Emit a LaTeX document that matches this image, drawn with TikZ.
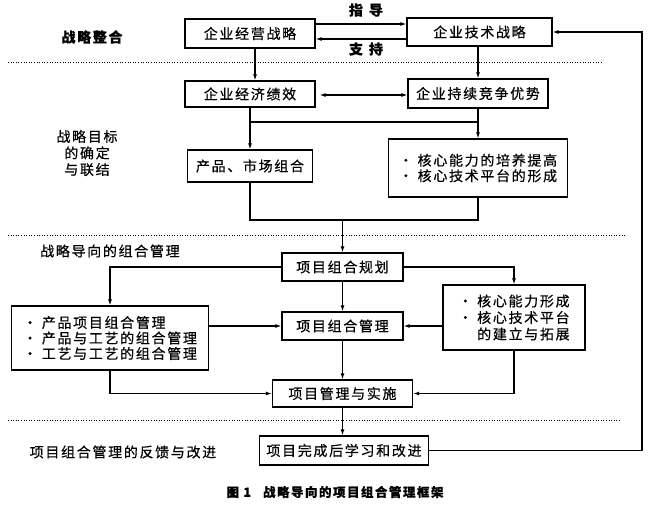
\documentclass[tikz,border=0pt]{standalone}
\usepackage{fontspec}
\newfontfamily\cjk[LetterSpace=12,FakeBold=0.5]{Noto Sans CJK SC}
\usetikzlibrary{arrows.meta}
\begin{document}
\begin{tikzpicture}[x=1pt,y=-1pt,
  box/.style={draw,line width=1.3pt,inner sep=0pt,align=left,font=\cjk\fontsize{14}{15.5}\selectfont},
  lbl/.style={align=center,inner sep=0pt,font=\cjk\fontsize{14}{16.5}\selectfont},
  link/.style={line width=1.1pt},
  divider/.style={line width=0.9pt,dash pattern=on 1pt off 1.6pt},
  >={Latex[length=6pt,width=4pt]}]
\useasboundingbox (0,0) rectangle (650,504);
\node[box,minimum width=130pt,minimum height=29pt] (jyzl) at (250,33.5) {企业经营战略};
\node[box,minimum width=145pt,minimum height=28pt] (jszl) at (479.5,32) {企业技术战略};
\node[box,minimum width=130pt,minimum height=26pt] (jjjx) at (250,94) {企业经济绩效};
\node[box,minimum width=140pt,minimum height=29pt] (jzys) at (478,93.5) {企业持续竞争优势};
\node[box,minimum width=125pt,minimum height=32pt] (cpsc) at (250,166) {产品、市场组合};
\node[box,minimum width=179pt,minimum height=58pt] (hxnl) at (478,168) {· 核心能力的培养提高\\· 核心技术平台的形成};
\node[box,minimum width=121pt,minimum height=28pt] (xmgh) at (342.5,267) {项目组合规划};
\node[box,minimum width=121pt,minimum height=28pt] (xmgl) at (342.5,326) {项目组合管理};
\node[box,minimum width=140pt,minimum height=27pt] (xmss) at (342.5,393.5) {项目管理与实施};
\node[box,minimum width=197pt,minimum height=64pt] (zhgl) at (110,338) {· 产品项目组合管理\\· 产品与工艺的组合管理\\· 工艺与工艺的组合管理};
\node[box,minimum width=142pt,minimum height=65pt,font=\cjk\fontsize{14}{16.5}\selectfont] (hxxc) at (514,317.5) {· 核心能力形成\\· 核心技术平台\\\phantom{· }的建立与拓展};
\node[box,minimum width=169pt,minimum height=29pt] (xmwc) at (344,450.5) {项目完成后学习和改进};
\node[lbl,font=\cjk\bfseries\fontsize{14}{16.5}\selectfont] (zlzh) at (92,37) {战略整合};
\node[lbl] (zlmb) at (87,153) {战略目标\\的确定\\与联结};
\node[lbl,anchor=west] (zldx) at (40,251) {战略导向的组合管理};
\node[lbl] (fkgj) at (123,452) {项目组合管理的反馈与改进};
\node[lbl,font=\cjk\bfseries\fontsize{14}{16.5}\selectfont] (zd) at (366,10) {指\hspace{6pt}导};
\node[lbl,font=\cjk\bfseries\fontsize{14}{16.5}\selectfont] (zc) at (366,49) {支\hspace{6pt}持};
\node[lbl,font=\cjk\bfseries\fontsize{12.5}{15}\selectfont] (tz) at (335,492) {图 1\hspace{12pt}战略导向的项目组合管理框架};
\coordinate (fb) at (642,0);
\draw[divider] (8,62) -- (603,62);
\draw[divider] (8,235) -- (625,235);
\draw[divider] (8,420) -- (620,420);
\draw[link,->] (jyzl.east |- 0,24) -- (jszl.west |- 0,24);
\draw[link,->] (jszl.west |- 0,39) -- (jyzl.east |- 0,39);
\draw[link,<->] ([xshift=4pt]jjjx.east |- 0,95) -- (jzys.west |- 0,95);
\draw[link,->] ([xshift=5pt]jyzl.south) -- ([xshift=5pt]jjjx.north);
\draw[link,->] (jszl.south -| jzys.north) -- (jzys.north);
\draw[link,->] (jjjx) -- (cpsc);
\draw[link,->] (jzys) -- (hxnl);
\draw[link] (jjjx.south |- 0,122) -- (jzys.south |- 0,122);
\draw[link] (cpsc.south) -- (cpsc.south |- 0,220) -- (hxnl.south |- 0,220) -- (hxnl.south);
\draw[link,->] (xmgh.north |- 0,220) -- (xmgh.north);
\draw[link,->] (xmgh.west) -| (zhgl.north);
\draw[link,->] (xmgh.east) -| (hxxc.north);
\draw[link,->] (xmgh) -- (xmgl);
\draw[link,->] (zhgl.east |- xmgl.west) -- (xmgl.west);
\draw[link,->] (hxxc.west |- xmgl.east) -- (xmgl.east);
\draw[link,->] (xmgl) -- (xmss);
\draw[link,->] (zhgl.south) |- (xmss.west);
\draw[link,->] (hxxc.south) |- (xmss.east);
\draw[link,->] (xmss.south) -- (xmss.south |- xmwc.north);
\draw[link,->] (xmwc.east) -| (fb |- jszl.east) -- (jszl.east);
\end{tikzpicture}
\end{document}
